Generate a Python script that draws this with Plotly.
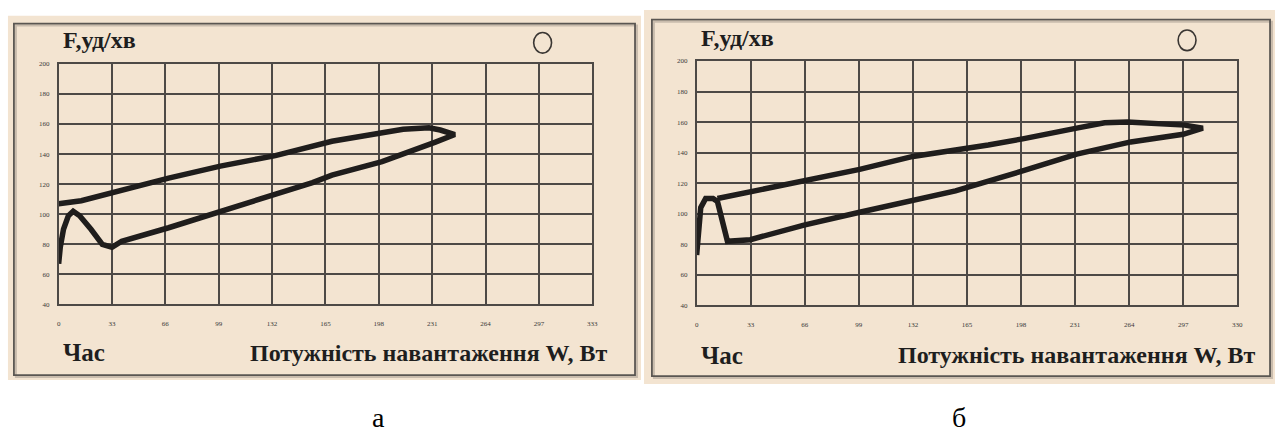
import plotly.graph_objects as go

# Heart rate (beats/min) vs. load power, recorded as a loop: rise under load, then recovery
# Panel "а"
power_a = [0, 1, 3, 6, 9, 13, 20, 27, 33, 39, 68, 100, 126, 157, 169, 200, 233, 245,
           236, 229, 213, 200, 169, 134, 100, 68, 34, 14, 0]
rate_a = [67, 78, 90, 99, 102, 99, 90, 80, 78, 82, 91, 102, 110, 121, 126, 135, 148, 153,
          156, 157.5, 156.5, 154, 148.5, 139, 132, 124, 114, 109, 107]

# Panel "б"
power_b = [0, 1, 2.5, 5.5, 10, 12.7, 18.8, 32.8, 65.5, 99.5, 132, 158, 199, 232, 265, 297, 309,
           298, 263, 249, 232, 213, 199, 178, 158, 132, 99.5, 66, 33, 12.7]
rate_b = [73, 90, 104, 110, 110, 108, 82, 83, 92.6, 101, 108.7, 115, 128, 139, 147, 152, 156,
          158, 160, 159.5, 156, 151.7, 149, 145, 142, 137.5, 129, 121.5, 115, 110]

x_tick_pos = [0, 33, 66, 99, 132, 165, 198, 231, 264, 297, 330]
x_ticks_a = ["0", "33", "66", "99", "132", "165", "198", "231", "264", "297", "333"]
x_ticks_b = ["0", "33", "66", "99", "132", "165", "198", "231", "264", "297", "330"]
y_ticks = [40, 60, 80, 100, 120, 140, 160, 180, 200]

y_label = "F,уд/хв"
time_label = "Час"
x_label = "Потужність навантаження W, Вт"
panel_letters = ["а", "б"]

W, H = 1283, 439


def px(x):
    return x / W


def py(y):
    return 1 - y / H


BEIGE = "#F3E4D1"
GRID = "#4d4946"
INK = "#1f1d1c"
SERIF = "Liberation Serif"

fig = go.Figure()
fig.add_trace(go.Scatter(x=power_a, y=rate_a, mode="lines", xaxis="x", yaxis="y",
                         line=dict(color=INK, width=5.5), showlegend=False, hoverinfo="skip"))
fig.add_trace(go.Scatter(x=power_b, y=rate_b, mode="lines", xaxis="x2", yaxis="y2",
                         line=dict(color=INK, width=5.5), showlegend=False, hoverinfo="skip"))


def xaxis(domain, labels):
    return dict(domain=domain, range=[0, 330], tickvals=x_tick_pos, ticktext=labels,
                showgrid=True, gridcolor=GRID, gridwidth=1.6, zeroline=False,
                showline=True, mirror=True, linecolor=GRID, linewidth=1.6,
                ticks="outside", ticklen=11, tickcolor="rgba(0,0,0,0)",
                tickfont=dict(family=SERIF, size=7, color="#3a3a3a"), fixedrange=True)


def yaxis(domain, anchor):
    return dict(domain=domain, range=[40, 200], tickvals=y_ticks, anchor=anchor,
                showgrid=True, gridcolor=GRID, gridwidth=1.6, zeroline=False,
                showline=True, mirror=True, linecolor=GRID, linewidth=1.6,
                ticks="outside", ticklen=6, tickcolor="rgba(0,0,0,0)",
                tickfont=dict(family=SERIF, size=7, color="#3a3a3a"), fixedrange=True)


shapes = []
# panel backgrounds and framed borders
for (x0, y0, x1, y1), (ix0, iy0, ix1, iy1) in [((6, 12, 643, 383), (12, 20, 637, 378)),
                                               ((646, 6, 1281, 387), (654, 16, 1276, 379))]:
    shapes.append(dict(type="rect", xref="paper", yref="paper", x0=px(x0), x1=px(x1),
                       y0=py(y1), y1=py(y0), fillcolor=BEIGE, line=dict(width=0), layer="below"))
    shapes.append(dict(type="rect", xref="paper", yref="paper", x0=px(ix0 + 2), x1=px(ix1 + 2),
                       y0=py(iy1 + 2), y1=py(iy0 + 2), line=dict(color="#c9bcad", width=2),
                       layer="below"))
    shapes.append(dict(type="rect", xref="paper", yref="paper", x0=px(ix0), x1=px(ix1),
                       y0=py(iy1), y1=py(iy0), line=dict(color="#5a5652", width=1.8),
                       layer="below"))

# round status indicator in the panel corner
for cx, cy in [(544, 39.5), (1192.5, 37)]:
    shapes.append(dict(type="circle", xref="paper", yref="paper", x0=px(cx - 9), x1=px(cx + 9),
                       y0=py(cy + 10.5), y1=py(cy - 10.5), line=dict(color="#3a3633", width=1.6)))

annotations = []
for left, top_title, bottom in [(60, 37, 355), (702, 35, 358)]:
    annotations.append(dict(text="<b>" + y_label + "</b>", xref="paper", yref="paper",
                            x=px(left - 1), y=py(top_title),
                            xanchor="left", yanchor="middle", showarrow=False,
                            font=dict(family=SERIF, size=24, color="#1e1e1e")))
    annotations.append(dict(text="<b>" + time_label + "</b>", xref="paper", yref="paper",
                            x=px(left - 1), y=py(bottom),
                            xanchor="left", yanchor="middle", showarrow=False,
                            font=dict(family=SERIF, size=25, color="#1e1e1e")))

for right, yy in [(611, 355), (1263, 358)]:
    annotations.append(dict(text="<b>" + x_label + "</b>", xref="paper", yref="paper",
                            x=px(right), y=py(yy),
                            xanchor="right", yanchor="middle", showarrow=False,
                            font=dict(family=SERIF, size=24, color="#1e1e1e")))

for letter, cx in zip(panel_letters, [379, 963]):
    annotations.append(dict(text=letter, xref="paper", yref="paper", x=px(cx), y=0,
                            xanchor="center", yanchor="bottom", showarrow=False,
                            font=dict(family=SERIF, size=28, color="#000")))

fig.update_layout(
    width=W, height=H, margin=dict(l=0, r=0, t=0, b=0),
    paper_bgcolor="white", plot_bgcolor="rgba(0,0,0,0)",
    xaxis=xaxis([px(57), px(594)], x_ticks_a),
    yaxis=yaxis([py(306), py(61)], "x"),
    xaxis2=dict(xaxis([px(699), px(1243)], x_ticks_b), anchor="y2"),
    yaxis2=yaxis([py(307), py(58)], "x2"),
    shapes=shapes, annotations=annotations,
)

fig.write_html("out.html")
